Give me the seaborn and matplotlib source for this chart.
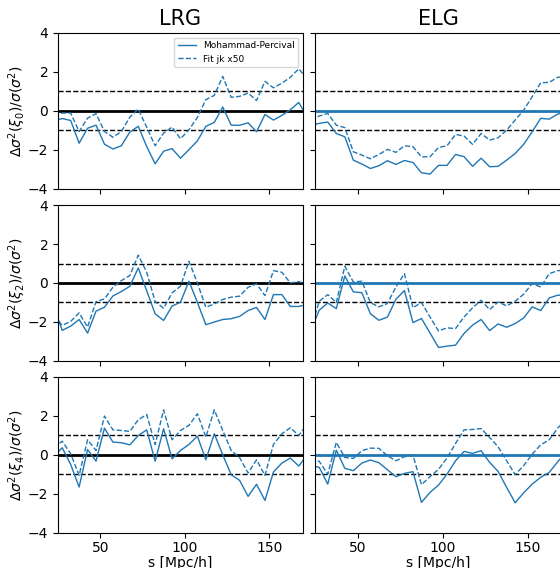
import numpy as np
import pandas as pd
import matplotlib
matplotlib.use("Agg")
import matplotlib.pyplot as plt
import seaborn as sns

# separation bins (Mpc/h)
s = [22.5, 27.5, 32.5, 37.5, 42.5, 47.5, 52.5, 57.5, 62.5, 67.5, 72.5,
     77.5, 82.5, 87.5, 92.5, 97.5, 102.5, 107.5, 112.5, 117.5, 122.5,
     127.5, 132.5, 137.5, 142.5, 147.5, 152.5, 157.5, 162.5, 167.5, 172.5]

# LRG, monopole
lrg_xi0_mp = [-0.52, -0.40, -0.50, -1.67, -0.90, -0.74, -1.72, -1.97, -1.80, -1.10, -0.80,
              -1.84, -2.73, -2.08, -1.95, -2.44, -2.00, -1.55, -0.80, -0.60, 0.19,
              -0.74, -0.75, -0.62, -1.08, -0.19, -0.48, -0.24, 0.05, 0.43, -0.33]
lrg_xi0_fit = [-0.22, -0.12, -0.12, -1.07, -0.38, -0.15, -1.07, -1.36, -1.07, -0.33, 0.09,
               -0.85, -1.80, -1.15, -0.84, -1.44, -0.98, -0.34, 0.57, 0.79, 1.77,
               0.69, 0.74, 0.91, 0.53, 1.51, 1.18, 1.42, 1.72, 2.16, 1.62]
# LRG, quadrupole
lrg_xi2_mp = [-1.24, -2.44, -2.22, -1.88, -2.58, -1.45, -1.25, -0.67, -0.44, -0.17, 0.77,
              -0.40, -1.59, -1.93, -1.19, -0.99, 0.09, -1.00, -2.15, -2.01, -1.88,
              -1.84, -1.72, -1.42, -1.26, -1.88, -0.60, -0.60, -1.21, -1.21, -1.11]
lrg_xi2_fit = [-1.68, -2.18, -1.98, -1.54, -2.27, -0.96, -0.82, -0.22, 0.12, 0.38, 1.43,
               0.55, -0.96, -1.30, -0.51, -0.17, 1.11, 0.00, -1.25, -1.08, -0.85,
               -0.73, -0.68, -0.22, -0.05, -0.65, 0.63, 0.55, 0.00, 0.07, -0.07]
# LRG, hexadecapole
lrg_xi4_mp = [-0.08, 0.36, -0.50, -1.66, 0.27, -0.33, 1.37, 0.65, 0.62, 0.51, 0.99,
              1.28, -0.33, 1.34, -0.21, 0.22, 0.53, 0.96, -0.26, 1.08, 0.00,
              -1.03, -1.32, -2.14, -1.52, -2.35, -0.89, -0.43, -0.17, -0.58, 0.00]
lrg_xi4_fit = [0.36, 0.70, 0.05, -1.06, 0.77, 0.22, 1.99, 1.28, 1.25, 1.20, 1.80,
               2.07, 0.53, 2.31, 0.77, 1.25, 1.51, 2.11, 0.91, 2.31, 1.25,
               0.22, -0.15, -0.94, -0.26, -1.06, 0.53, 1.08, 1.39, 0.99, 1.57]

# ELG, monopole
elg_xi0_mp = [-0.75, -0.65, -0.58, -1.17, -1.34, -2.54, -2.74, -2.97, -2.83, -2.57, -2.76,
              -2.56, -2.66, -3.19, -3.26, -2.81, -2.81, -2.25, -2.36, -2.86, -2.44,
              -2.88, -2.86, -2.54, -2.20, -1.73, -1.08, -0.39, -0.43, -0.17, -0.07]
elg_xi0_fit = [-0.45, -0.27, -0.14, -0.74, -0.87, -2.11, -2.28, -2.47, -2.25, -1.99, -2.14,
               -1.80, -1.85, -2.37, -2.37, -1.89, -1.80, -1.22, -1.30, -1.73, -1.17,
               -1.51, -1.39, -1.00, -0.48, 0.03, 0.72, 1.44, 1.46, 1.72, 1.78]
# ELG, quadrupole
elg_xi2_mp = [-2.44, -1.40, -1.03, -1.32, 0.36, -0.46, -0.50, -1.58, -1.92, -1.76, -0.84,
              -0.39, -2.04, -1.83, -2.57, -3.32, -3.25, -3.20, -2.60, -2.17, -1.88,
              -2.45, -2.11, -2.28, -2.09, -1.80, -1.23, -1.42, -0.77, -0.63, -0.63]
elg_xi2_fit = [-2.38, -0.94, -0.60, -1.01, 0.86, 0.05, 0.09, -1.01, -1.23, -1.06, -0.21,
               0.48, -1.27, -1.01, -1.75, -2.47, -2.31, -2.35, -1.75, -1.28, -0.89,
               -1.37, -0.98, -1.18, -0.94, -0.58, -0.03, -0.21, 0.48, 0.63, 0.67]
# ELG, hexadecapole
elg_xi4_mp = [-0.55, -0.65, -1.51, 0.24, -0.70, -0.82, -0.43, -0.27, -0.41, -0.77, -1.13,
              -0.96, -0.87, -2.45, -1.94, -1.56, -1.00, -0.31, 0.17, 0.07, 0.21,
              -0.39, -0.86, -1.68, -2.47, -1.96, -1.51, -1.16, -0.91, -0.36, 0.16]
elg_xi4_fit = [-0.20, -0.34, -1.00, 0.64, -0.14, -0.19, 0.21, 0.34, 0.33, -0.05, -0.31,
               -0.10, -0.02, -1.54, -1.13, -0.75, -0.17, 0.58, 1.28, 1.30, 1.35,
               0.89, 0.41, -0.31, -1.02, -0.56, 0.03, 0.51, 0.77, 1.37, 1.83]

tracers = ["LRG", "ELG"]
multipoles = [0, 2, 4]
series = {
    ("LRG", 0): (lrg_xi0_mp, lrg_xi0_fit),
    ("LRG", 2): (lrg_xi2_mp, lrg_xi2_fit),
    ("LRG", 4): (lrg_xi4_mp, lrg_xi4_fit),
    ("ELG", 0): (elg_xi0_mp, elg_xi0_fit),
    ("ELG", 2): (elg_xi2_mp, elg_xi2_fit),
    ("ELG", 4): (elg_xi4_mp, elg_xi4_fit),
}
label_mp = "Mohammad-Percival"
label_fit = "Fit jk x50"

W, H = 560, 568
fig = plt.figure(figsize=(W / 100, H / 100), dpi=100)

col_x = [58 / W, 315 / W]
col_w = [245 / W, 247 / W]
row_bottom = [(H - 188.5) / H, (H - 360.7) / H, (H - 532.5) / H]
row_h = 155.5 / H

blue = sns.color_palette()[0]
axes = {}
for j, tr in enumerate(tracers):
    for i, ell in enumerate(multipoles):
        ax = fig.add_axes([col_x[j], row_bottom[i], col_w[j], row_h])
        axes[(tr, ell)] = ax
        mp, fit = series[(tr, ell)]
        df = pd.DataFrame({"s": s, "mp": mp, "fit": fit})
        sns.lineplot(data=df, x="s", y="mp", ax=ax, color=blue, lw=1.0,
                     label=label_mp, legend=False)
        sns.lineplot(data=df, x="s", y="fit", ax=ax, color=blue, lw=1.0,
                     linestyle="--", label=label_fit, legend=False)
        zero_col = "k" if tr == "LRG" else blue
        ax.axhline(0, color=zero_col, lw=2.0, zorder=1)
        ax.axhline(1, color="k", lw=1.0, ls="--", zorder=1)
        ax.axhline(-1, color="k", lw=1.0, ls="--", zorder=1)
        ax.set_xlim(25, 170)
        ax.set_ylim(-4, 4)
        ax.set_xticks([50, 100, 150])
        ax.set_yticks([-4, -2, 0, 2, 4])
        ax.tick_params(labelsize=10)
        ax.tick_params(axis="x", pad=2.5)
        if j == 0:
            ax.set_ylabel(r"$\Delta\sigma^2(\xi_{%d})/\sigma(\sigma^2)$" % ell, fontsize=10)
            ax.yaxis.set_label_coords(-0.122, 0.5)
        else:
            ax.set_ylabel("")
            ax.tick_params(labelleft=False)
        if i == 2:
            ax.set_xlabel("s [Mpc/h]", fontsize=10, labelpad=0.5)
        else:
            ax.set_xlabel("")
            ax.tick_params(labelbottom=False)
        if i == 0:
            ax.set_title(tr, fontsize=15)

axes[("LRG", 0)].legend(loc="upper right", fontsize=6.5)

fig.savefig("out.png", dpi=100)
